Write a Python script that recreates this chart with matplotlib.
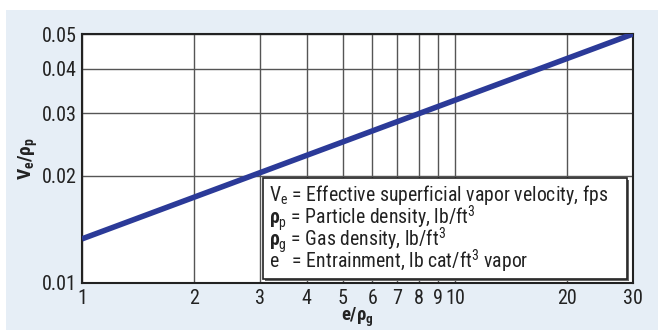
import matplotlib
matplotlib.use("Agg")
import matplotlib.pyplot as plt
from matplotlib.patches import Rectangle
from matplotlib.ticker import FixedLocator, NullLocator, FixedFormatter

# ---- data ----
x_line = [1, 30]
y_line = [0.0133, 0.05]
x_ticks = [1, 2, 3, 4, 5, 6, 7, 8, 9, 10, 20, 30]
x_tick_labels = ["1", "2", "3", "4", "5", "6", "7", "8", "9", "10", "20", "30"]
y_ticks = [0.01, 0.02, 0.03, 0.04, 0.05]
y_tick_labels = ["0.01", "0.02", "0.03", "0.04", "0.05"]
legend_lines = [
    r"$\mathregular{V_e}$ = Effective superficial vapor velocity, fps",
    r"$\mathbf{ρ}_\mathregular{p}$ = Particle density, lb/ft$\mathregular{^3}$",
    r"$\mathbf{ρ}_\mathregular{g}$ = Gas density, lb/ft$\mathregular{^3}$",
    r"e   = Entrainment, lb cat/ft$\mathregular{^3}$ vapor",
]

fam = "Roboto Condensed"
plt.rcParams["font.family"] = [fam, "DejaVu Sans"]
plt.rcParams["mathtext.fontset"] = "custom"
plt.rcParams["mathtext.rm"] = fam
plt.rcParams["mathtext.it"] = fam
plt.rcParams["mathtext.bf"] = fam + ":bold"

W, H = 658, 330
fig = plt.figure(figsize=(W / 100, H / 100), dpi=100, facecolor="white")
bg = "#e6eef6"
fig.patches.append(Rectangle((6 / W, 0), 1 - 6 / W, 1 - 10 / H, transform=fig.transFigure,
                             facecolor=bg, edgecolor="none", zorder=-10))

L, R, T, B = 82, 633, 34, 283
ax = fig.add_axes([L / W, 1 - B / H, (R - L) / W, (B - T) / H])
ax.set_facecolor("white")
ax.set_xscale("log")
ax.set_yscale("log")
ax.set_xlim(1, 30)
ax.set_ylim(0.01, 0.05)

ax.xaxis.set_major_locator(FixedLocator(x_ticks))
ax.xaxis.set_major_formatter(FixedFormatter(x_tick_labels))
ax.xaxis.set_minor_locator(NullLocator())
ax.yaxis.set_major_locator(FixedLocator(y_ticks))
ax.yaxis.set_major_formatter(FixedFormatter(y_tick_labels))
ax.yaxis.set_minor_locator(NullLocator())
ax.tick_params(axis="both", length=0, labelsize=14.5, colors="#222222")
ax.tick_params(axis="x", pad=4)
ax.tick_params(axis="y", pad=4)
ax.grid(True, which="major", color="#555555", linewidth=1.0)
ax.set_axisbelow(True)
for s in ax.spines.values():
    s.set_color("#222222")
    s.set_linewidth(1.5)

ax.plot(x_line, y_line, color="#2b3a98", linewidth=4, solid_capstyle="butt", zorder=3)

ax.set_xlabel(r"$\mathbf{e/ρ_g}$", fontsize=13.5, labelpad=-1.5, color="#222222")
ax.set_ylabel(r"$\mathbf{V_e/ρ_p}$", fontsize=14, labelpad=1, color="#222222")

# legend box in pixel coords -> figure coords
bx0, by0, bx1, by1 = 263, 178, 627, 279
fig.patches.append(Rectangle((bx0 / W + 1.5 / W, 1 - by1 / H - 1.5 / H), (bx1 - bx0) / W, (by1 - by0) / H,
                             transform=fig.transFigure, facecolor="#666666", edgecolor="none", zorder=4))
box = Rectangle((bx0 / W, 1 - by1 / H), (bx1 - bx0) / W, (by1 - by0) / H,
                transform=fig.transFigure, facecolor="white", edgecolor="#222222", linewidth=1.2, zorder=5)
fig.patches.append(box)
ys = [195, 218, 240, 261]
for t, yy in zip(legend_lines, ys):
    fig.text(269 / W, 1 - yy / H, t, fontsize=14.2, color="#222222", va="center", ha="left", zorder=6)

fig.savefig("out.png", dpi=100, facecolor="white")
